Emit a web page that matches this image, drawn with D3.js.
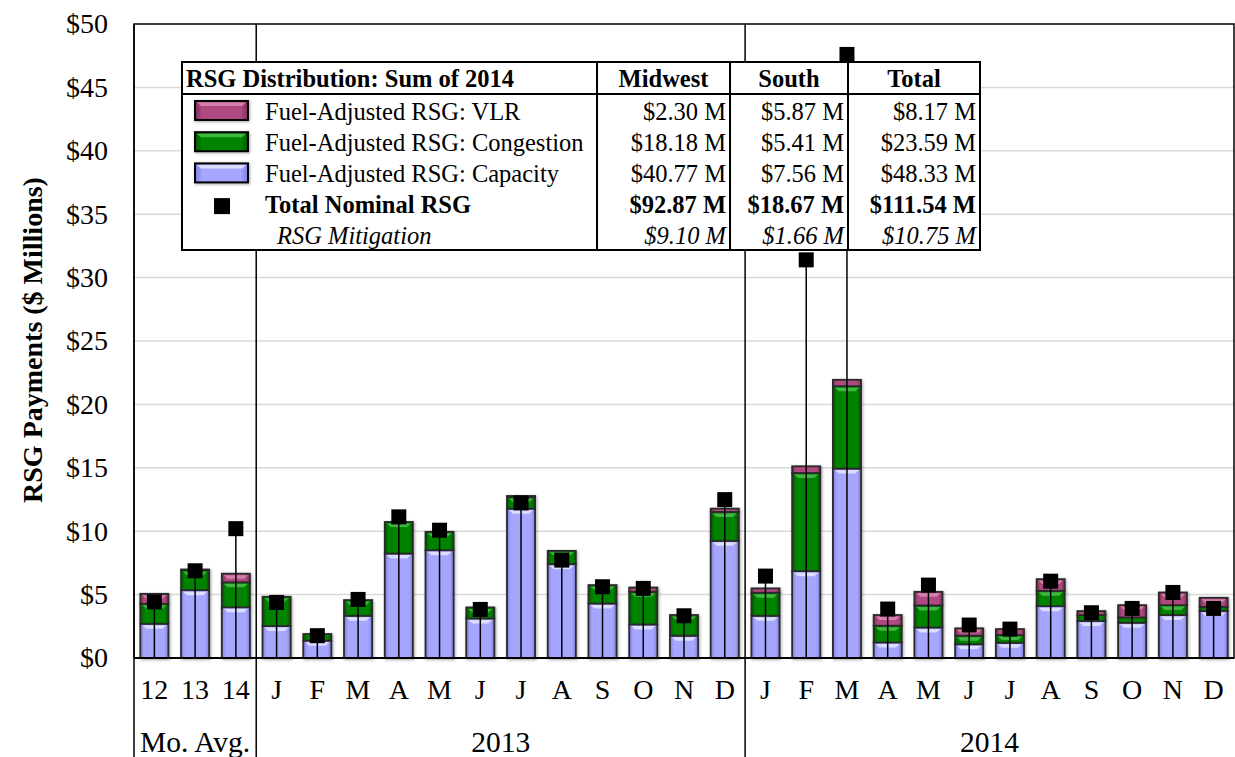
<!DOCTYPE html>
<html>
<head>
<meta charset="utf-8">
<script src="https://cdn.jsdelivr.net/npm/d3@7"></script>
<style>
  html, body { margin: 0; padding: 0; background: #fff; }
  svg { display: block; font-family: "Liberation Serif", "Times New Roman", serif; }
</style>
</head>
<body>
<svg id="chart" width="1235" height="757"></svg>
<script>
// Month labels: 3 monthly averages, then 2013 and 2014
const categories = ["12","13","14",
  "J","F","M","A","M","J","J","A","S","O","N","D",
  "J","F","M","A","M","J","J","A","S","O","N","D"];
const groupNames = ["Mo. Avg.", "2013", "2014"];
const groupSizes = [3, 12, 12];

// Fuel-adjusted RSG components ($ millions)
const capacity = [2.70, 5.35, 4.00,
  2.52, 1.37, 3.33, 8.24, 8.50, 3.12, 11.78, 7.40, 4.30, 2.65, 1.76, 9.24,
  3.33, 6.85, 14.94, 1.23, 2.41, 1.08, 1.20, 4.09, 2.91, 2.78, 3.39, 3.70];
const congestion = [1.58, 1.58, 1.97,
  2.31, 0.52, 1.24, 2.49, 1.45, 0.87, 0.92, 1.05, 1.45, 2.57, 1.63, 2.28,
  1.82, 7.74, 6.50, 1.32, 1.74, 0.68, 0.61, 1.21, 0.48, 0.42, 0.78, 0.34];
const vlr = [0.78, 0.05, 0.68,
  0, 0, 0, 0, 0, 0, 0.08, 0, 0, 0.34, 0, 0.26,
  0.34, 0.53, 0.50, 0.84, 1.07, 0.58, 0.47, 0.92, 0.31, 0.97, 1.00, 0.71];
// Total nominal RSG ($ millions)
const nominal = [4.43, 6.88, 10.20,
  4.38, 1.76, 4.62, 11.13, 10.08, 3.83, 12.23, 7.72, 5.62, 5.49, 3.33, 12.49,
  6.46, 31.40, 47.60, 3.86, 5.75, 2.60, 2.28, 6.06, 3.57, 3.91, 5.17, 3.91];

// Summary table for 2014
const tableTitle = "RSG Distribution: Sum of 2014";
const tableColumns = ["Midwest", "South", "Total"];
const tableRows = ["Fuel-Adjusted RSG: VLR", "Fuel-Adjusted RSG: Congestion",
  "Fuel-Adjusted RSG: Capacity", "Total Nominal RSG", "RSG Mitigation"];
const midwestVals = ["$2.30 M", "$18.18 M", "$40.77 M", "$92.87 M", "$9.10 M"];
const southVals = ["$5.87 M", "$5.41 M", "$7.56 M", "$18.67 M", "$1.66 M"];
const totalVals = ["$8.17 M", "$23.59 M", "$48.33 M", "$111.54 M", "$10.75 M"];

const yTicks = d3.range(0, 51, 5);

const svg = d3.select("#chart");
const plot = { left: 134, right: 1234, top: 24, bottom: 658 };
const axisFont = 28;
const groupFont = 29.5;
const tableFont = 24.5;
const serif = "Liberation Serif, Times New Roman, serif";

const x = d3.scaleBand()
  .domain(d3.range(categories.length))
  .range([plot.left, plot.right])
  .paddingInner(0.31)
  .paddingOuter(0.155);
const y = d3.scaleLinear().domain([0, 50]).range([plot.bottom, plot.top]);

// ---- gradients and shadow ----
const defs = svg.append("defs");
const palette = {
  vlr:        { base: "#b04a82", dark: "#7c2c58", light: "#dc8ab4" },
  congestion: { base: "#008400", dark: "#005800", light: "#4cc04c" },
  capacity:   { base: "#a6a6ff", dark: "#7d7de0", light: "#e6e6ff" }
};
Object.entries(palette).forEach(([k, c]) => {
  const g = defs.append("linearGradient").attr("id", "grad-" + k)
    .attr("x1", 0).attr("x2", 1).attr("y1", 0).attr("y2", 0);
  [[0, c.dark], [0.14, c.base], [0.86, c.base], [1, c.dark]].forEach(([o, col]) =>
    g.append("stop").attr("offset", o).attr("stop-color", col));
});
const f = defs.append("filter").attr("id", "shadow")
  .attr("x", "-30%").attr("y", "-30%").attr("width", "160%").attr("height", "160%");
f.append("feDropShadow").attr("dx", 1).attr("dy", 1).attr("stdDeviation", 1.6)
  .attr("flood-color", "#000").attr("flood-opacity", 0.35);

// ---- gridlines ----
svg.append("g").selectAll("line")
  .data(yTicks.filter(d => d > 0 && d < 50))
  .join("line")
  .attr("x1", plot.left).attr("x2", plot.right)
  .attr("y1", d => y(d)).attr("y2", d => y(d))
  .attr("stroke", "#d9d9d9").attr("stroke-width", 1.5);

// ---- group separators (run down through the category labels) ----
const step = x.step();
const boundaries = [0];
groupSizes.reduce((acc, n) => { boundaries.push(acc + n); return acc + n; }, 0);
const bx = i => plot.left + i * step;
svg.append("g").selectAll("line")
  .data(boundaries.slice(0, -1))
  .join("line")
  .attr("x1", d => bx(d)).attr("x2", d => bx(d))
  .attr("y1", plot.top).attr("y2", 757)
  .attr("stroke", "#000").attr("stroke-width", 1.5);

// ---- stacked bars ----
const keys = ["capacity", "congestion", "vlr"];
const rows = categories.map((c, i) => ({ i, capacity: capacity[i], congestion: congestion[i], vlr: vlr[i] }));
const stacked = d3.stack().keys(keys)(rows);

const barG = svg.append("g").attr("filter", "url(#shadow)");
stacked.forEach(layer => {
  const key = layer.key;
  const segs = layer.filter(d => d[1] - d[0] > 0);
  barG.append("g").selectAll("rect").data(segs).join("rect")
    .attr("x", d => x(d.data.i))
    .attr("width", x.bandwidth())
    .attr("y", d => y(d[1]))
    .attr("height", d => y(d[0]) - y(d[1]))
    .attr("fill", "url(#grad-" + key + ")")
    .attr("stroke", "#2b2b2b").attr("stroke-width", 1.8);
});
// top bevel highlight on each segment
stacked.forEach(layer => {
  const key = layer.key;
  const segs = layer.filter(d => y(d[0]) - y(d[1]) > 7);
  svg.append("g").selectAll("path").data(segs).join("path")
    .attr("d", d => {
      const x0 = x(d.data.i) + 2, x1 = x(d.data.i) + x.bandwidth() - 2, t = y(d[1]) + 1.5;
      return `M${x0},${t}L${x1},${t}L${x1 - 4},${t + 3.5}L${x0 + 4},${t + 3.5}Z`;
    })
    .attr("fill", palette[key].light).attr("opacity", 0.85);
});

// ---- nominal RSG: stems and square markers ----
const mk = 15;
svg.append("g").selectAll("line").data(nominal).join("line")
  .attr("x1", (d, i) => x(i) + x.bandwidth() / 2)
  .attr("x2", (d, i) => x(i) + x.bandwidth() / 2)
  .attr("y1", y(0)).attr("y2", d => y(d))
  .attr("stroke", "#000").attr("stroke-width", 1.5);
svg.append("g").selectAll("rect").data(nominal).join("rect")
  .attr("x", (d, i) => x(i) + x.bandwidth() / 2 - mk / 2)
  .attr("y", d => y(d) - mk / 2)
  .attr("width", mk).attr("height", mk)
  .attr("fill", "#000");

// ---- frame and axes ----
svg.append("rect")
  .attr("x", plot.left).attr("y", plot.top)
  .attr("width", plot.right - plot.left).attr("height", plot.bottom - plot.top)
  .attr("fill", "none").attr("stroke", "#000").attr("stroke-width", 1.5);
svg.append("line")
  .attr("x1", plot.left).attr("x2", plot.right)
  .attr("y1", y(0)).attr("y2", y(0))
  .attr("stroke", "#000").attr("stroke-width", 1.8);

const yAxis = svg.append("g")
  .attr("transform", `translate(${plot.left},0)`)
  .call(d3.axisLeft(y).tickValues(yTicks).tickSize(0).tickPadding(26).tickFormat(d => "$" + d));
yAxis.select(".domain").remove();
yAxis.selectAll("text").attr("font-size", axisFont).attr("fill", "#000")
  .attr("font-family", serif);

const xAxis = svg.append("g")
  .attr("transform", `translate(0,${plot.bottom})`)
  .call(d3.axisBottom(x).tickSize(0).tickPadding(21).tickFormat(i => categories[i]));
xAxis.select(".domain").remove();
xAxis.selectAll("text").attr("font-size", axisFont).attr("fill", "#000")
  .attr("font-family", serif);

svg.append("g").selectAll("text").data(groupNames).join("text")
  .attr("x", (d, k) => (bx(boundaries[k]) + bx(boundaries[k + 1])) / 2)
  .attr("y", 752)
  .attr("text-anchor", "middle")
  .attr("font-size", groupFont)
  .text(d => d);

svg.append("text")
  .attr("transform", "translate(42,340) rotate(-90)")
  .attr("text-anchor", "middle")
  .attr("font-size", axisFont).attr("font-weight", "bold")
  .text("RSG Payments ($ Millions)");

// ---- summary table ----
const tb = { left: 182, top: 62, headerBottom: 94, bottom: 250 };
const colX = [182, 597, 730, 848, 980];
const rowH = (tb.bottom - tb.headerBottom) / tableRows.length;
const tg = svg.append("g");
tg.append("rect")
  .attr("x", tb.left).attr("y", tb.top)
  .attr("width", colX[4] - tb.left).attr("height", tb.bottom - tb.top)
  .attr("fill", "#fff").attr("stroke", "#000").attr("stroke-width", 2);
tg.append("line")
  .attr("x1", tb.left).attr("x2", colX[4])
  .attr("y1", tb.headerBottom).attr("y2", tb.headerBottom)
  .attr("stroke", "#000").attr("stroke-width", 2);
tg.selectAll("line.col").data(colX.slice(1, 4)).join("line").attr("class", "col")
  .attr("x1", d => d).attr("x2", d => d)
  .attr("y1", tb.top).attr("y2", tb.bottom)
  .attr("stroke", "#000").attr("stroke-width", 2);

tg.append("text").attr("x", tb.left + 4).attr("y", 87)
  .attr("font-size", tableFont).attr("font-weight", "bold").text(tableTitle);
tg.selectAll("text.head").data(tableColumns).join("text").attr("class", "head")
  .attr("x", (d, k) => (colX[k + 1] + colX[k + 2]) / 2).attr("y", 87)
  .attr("text-anchor", "middle").attr("font-size", tableFont).attr("font-weight", "bold")
  .text(d => d);

const rowBase = k => tb.headerBottom + k * rowH + 25.5;
const rowWeight = k => k === 3 ? "bold" : "normal";
const rowStyle = k => k === 4 ? "italic" : "normal";

tg.selectAll("text.rlabel").data(tableRows).join("text").attr("class", "rlabel")
  .attr("x", (d, k) => k === 4 ? 277 : 265)
  .attr("y", (d, k) => rowBase(k))
  .attr("font-size", tableFont)
  .attr("font-weight", (d, k) => rowWeight(k))
  .attr("font-style", (d, k) => rowStyle(k))
  .text(d => d);

[midwestVals, southVals, totalVals].forEach((vals, c) => {
  tg.append("g").selectAll("text").data(vals).join("text")
    .attr("x", colX[c + 2] - 4)
    .attr("y", (d, k) => rowBase(k))
    .attr("text-anchor", "end")
    .attr("font-size", tableFont)
    .attr("font-weight", (d, k) => rowWeight(k))
    .attr("font-style", (d, k) => rowStyle(k))
    .text(d => d);
});

// legend swatches
const swatchKeys = ["vlr", "congestion", "capacity"];
const sw = tg.append("g").attr("filter", "url(#shadow)");
sw.selectAll("rect").data(swatchKeys).join("rect")
  .attr("x", 195).attr("width", 53)
  .attr("y", (d, k) => tb.headerBottom + k * rowH + 7)
  .attr("height", 19)
  .attr("fill", d => "url(#grad-" + d + ")")
  .attr("stroke", "#000").attr("stroke-width", 2);
tg.selectAll("path.bevel").data(swatchKeys).join("path").attr("class", "bevel")
  .attr("d", (d, k) => {
    const t = tb.headerBottom + k * rowH + 8.5;
    return `M197,${t}L246,${t}L242,${t + 3.5}L201,${t + 3.5}Z`;
  })
  .attr("fill", d => palette[d].light).attr("opacity", 0.85);
tg.append("rect")
  .attr("x", 222 - 8).attr("y", rowBase(3) - 15)
  .attr("width", 16).attr("height", 16).attr("fill", "#000");
</script>
</body>
</html>
